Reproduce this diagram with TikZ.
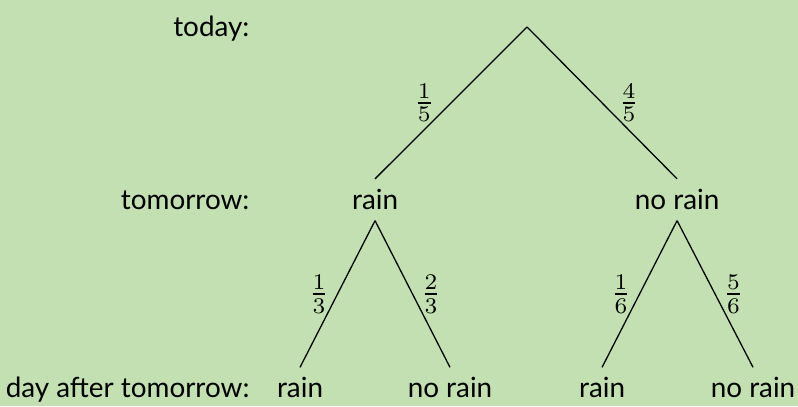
\documentclass[tikz,border=0pt]{standalone}
\usepackage{amsmath,amssymb}
\usepackage{fontspec}
\newfontfamily\treefont{Lato}
\usetikzlibrary{positioning}
\definecolor{fondvert}{RGB}{194,224,177}

\begin{document}
\begin{tikzpicture}[
    etat/.style={font=\treefont\fontsize{8.7}{11}\selectfont, anchor=base,
      inner sep=3.33pt, text height=6pt, text depth=0pt},
    jour/.style={font=\treefont\fontsize{8.7}{11}\selectfont, anchor=base east, inner sep=0pt},
    proba/.style={midway, inner sep=1pt}
  ]

  % 1. Fond et cadre
  \fill[fondvert] (0,0) rectangle (8.764,4.459);
  \useasboundingbox (0,0) rectangle (8.764,4.459);

  % 2. Les jours (colonne de gauche)
  \node[jour] (today) at (2.746,4.06) {today:};
  \node[jour] (tomorrow) at (2.746,2.16) {tomorrow:};
  \node[jour] (dayafter) at (2.746,0.09) {day after tomorrow:};

  % 3. Racine et premier niveau
  \coordinate (R) at (5.788,4.163);
  \node[etat] (r1) at (4.119,2.16) {rain};
  \node[etat] (n1) at (7.436,2.16) {no rain};

  \draw (R) -- node[proba, left=4pt] {$\frac{1}{5}$} (r1.north);
  \draw (R) -- node[proba, right=4pt] {$\frac{4}{5}$} (n1.north);

  % 4. Second niveau
  \node[etat] (r1r) at (3.295,0.09) {rain};
  \node[etat] (r1n) at (4.942,0.09) {no rain};
  \node[etat] (n1r) at (6.612,0.09) {rain};
  \node[etat] (n1n) at (8.270,0.09) {no rain};

  \draw (r1.south) -- node[proba, left=1.4pt] {$\frac{1}{3}$} (r1r.north);
  \draw (r1.south) -- node[proba, right=1.4pt] {$\frac{2}{3}$} (r1n.north);
  \draw (n1.south) -- node[proba, left=1.4pt] {$\frac{1}{6}$} (n1r.north);
  \draw (n1.south) -- node[proba, right=1.4pt] {$\frac{5}{6}$} (n1n.north);

\end{tikzpicture}
\end{document}
